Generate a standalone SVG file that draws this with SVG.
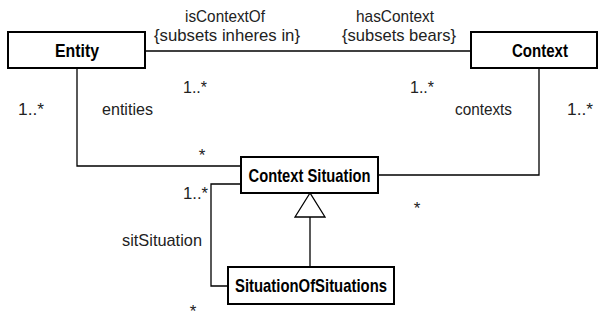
<svg xmlns="http://www.w3.org/2000/svg" width="599" height="321" viewBox="0 0 599 321">
  <style>
    .box { fill: #ffffff; stroke: #000000; stroke-width: 2; }
    .cls { font-family: "Liberation Sans", Arial, sans-serif; font-weight: bold; font-size: 19px; fill: #000000; text-anchor: middle; }
    .lbl { font-family: "Liberation Sans", Arial, sans-serif; font-size: 17px; fill: #222222; }
    .mid { text-anchor: middle; }
    .conn { fill: none; stroke: #000000; stroke-width: 1.3; }
    .gen { fill: #ffffff; stroke: #000000; stroke-width: 1.3; }
  </style>

  <!-- connectors -->
  <g id="connectors">
    <!-- Entity — Context association -->
    <line class="conn" x1="145" y1="51" x2="471" y2="51"/>
    <!-- Entity — Context Situation -->
    <polyline class="conn" points="77,68 77,166 241,166"/>
    <!-- Context — Context Situation -->
    <polyline class="conn" points="539,68 539,175 378,175"/>
    <!-- sitSituation -->
    <polyline class="conn" points="241,184 211,184 211,286 228,286"/>
    <!-- generalization -->
    <line class="conn" x1="310" y1="217" x2="310" y2="267"/>
    <polygon class="gen" points="310,193 295,217 325,217"/>
  </g>

  <!-- association labels -->
  <g id="labels">
    <text class="lbl mid" x="225" y="22" textLength="80" lengthAdjust="spacingAndGlyphs">isContextOf</text>
    <text class="lbl mid" x="227" y="41" textLength="146" lengthAdjust="spacingAndGlyphs">{subsets inheres in}</text>
    <text class="lbl mid" x="395" y="22" textLength="78" lengthAdjust="spacingAndGlyphs">hasContext</text>
    <text class="lbl mid" x="399" y="41" textLength="114" lengthAdjust="spacingAndGlyphs">{subsets bears}</text>
    <text class="lbl" x="183" y="93" textLength="24" lengthAdjust="spacingAndGlyphs">1..*</text>
    <text class="lbl" x="410" y="93" textLength="24" lengthAdjust="spacingAndGlyphs">1..*</text>
    <text class="lbl" x="18" y="115" textLength="26" lengthAdjust="spacingAndGlyphs">1..*</text>
    <text class="lbl" x="102" y="115" textLength="51" lengthAdjust="spacingAndGlyphs">entities</text>
    <text class="lbl" x="455" y="115" textLength="57" lengthAdjust="spacingAndGlyphs">contexts</text>
    <text class="lbl" x="567" y="115" textLength="26" lengthAdjust="spacingAndGlyphs">1..*</text>
    <text class="lbl mid" x="202" y="161">*</text>
    <text class="lbl" x="183" y="199" textLength="25" lengthAdjust="spacingAndGlyphs">1..*</text>
    <text class="lbl" x="122" y="246" textLength="80" lengthAdjust="spacingAndGlyphs">sitSituation</text>
    <text class="lbl mid" x="417" y="214">*</text>
    <text class="lbl mid" x="193" y="317">*</text>
  </g>

  <g id="entity">
    <rect class="box" x="8" y="32" width="137" height="36"/>
    <text class="cls" x="77" y="57" textLength="44" lengthAdjust="spacingAndGlyphs">Entity</text>
  </g>

  <g id="context">
    <rect class="box" x="471" y="32" width="126" height="36"/>
    <text class="cls" x="540" y="57" textLength="56" lengthAdjust="spacingAndGlyphs">Context</text>
  </g>

  <g id="context-situation">
    <rect class="box" x="241" y="157" width="137" height="36"/>
    <text class="cls" x="309.5" y="182" textLength="122" lengthAdjust="spacingAndGlyphs">Context Situation</text>
  </g>

  <g id="situation-of-situations">
    <rect class="box" x="228" y="267" width="166" height="37"/>
    <text class="cls" x="311" y="292" textLength="152" lengthAdjust="spacingAndGlyphs">SituationOfSituations</text>
  </g>
</svg>
